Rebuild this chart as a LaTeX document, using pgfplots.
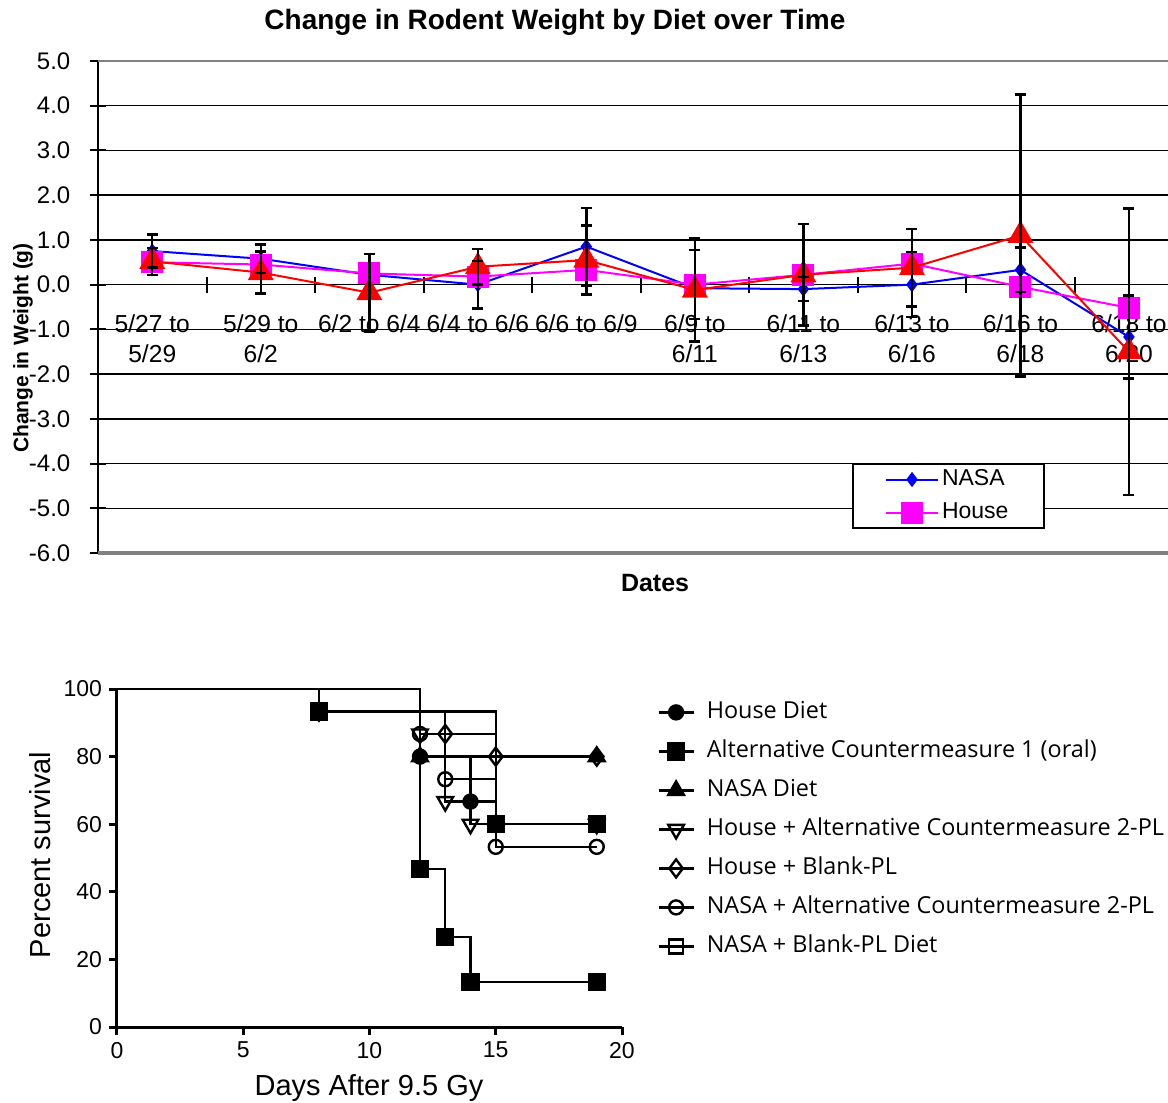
\documentclass[border=0pt]{standalone}
\usepackage{fontspec}
\setmainfont{Liberation Sans}
\newfontfamily\legfont{Open Sans}
\usepackage{pgfplots}
\pgfplotsset{compat=1.18}
\definecolor{nasablue}{RGB}{0,0,255}
\definecolor{housemag}{RGB}{255,0,255}
\definecolor{thirdred}{RGB}{255,0,0}

\begin{document}
\begin{tikzpicture}
\path[use as bounding box] (0,0) rectangle (584pt,-551.5pt);

% ---------- top: weight change ----------
\begin{axis}[
  at={(49pt,-30.5pt)}, anchor=north west,
  scale only axis, width=535pt, height=246pt,
  xmin=0.5, xmax=10.36, ymin=-6, ymax=5,
  clip mode=individual,
  axis y line*=left, axis x line*=middle,
  hide obscured x ticks=false, hide obscured y ticks=false,
  x axis line style={black, line width=0.7pt},
  y axis line style={black, line width=1.2pt},
  ytick={-6,...,5},
  yticklabels={-6.0,-5.0,-4.0,-3.0,-2.0,-1.0,0.0,1.0,2.0,3.0,4.0,5.0},
  ymajorgrids, grid style={black, line width=0.7pt},
  xtick={1,...,10},
  xticklabels={{5/27 to\\5/29},{5/29 to\\6/2},{6/2 to 6/4},{6/4 to 6/6},{6/6 to 6/9},
    {6/9 to\\6/11},{6/11 to\\6/13},{6/13 to\\6/16},{6/16 to\\6/18},{6/18 to\\6/20}},
  minor x tick num=1,
  tick align=center, major tick length=8pt, minor tick length=8pt,
  tick style={black, line width=1pt},
  major x tick style={draw=none},
  xticklabel style={font=\fontsize{12.3}{15}\selectfont, align=center, anchor=north, yshift=-7.5pt},
  yticklabel style={font=\fontsize{12}{14}\selectfont, anchor=east, xshift=-6.3pt},
  xlabel={Dates},
  xlabel style={font=\bfseries\fontsize{12.5}{14}\selectfont, at={(axis description cs:0.5206,-0.061)}, anchor=center},
  ylabel={Change in Weight (g)},
  ylabel style={font=\bfseries\fontsize{10.5}{12}\selectfont, at={(axis description cs:-0.0701,0.4167)}, anchor=center},
  legend style={at={(0.7047,0.1829)}, anchor=north west, draw=black, line width=1pt,
    font=\fontsize{11.5}{13}\selectfont, inner xsep=16pt, inner ysep=1.75pt, row sep=4.5pt,
    nodes={inner xsep=1.5pt, inner ysep=0pt, text height=9pt, text depth=3pt}},
  legend cell align=left,
  legend image code/.code={
    \draw[#1, mark=none] (0pt,0pt) -- (26pt,0pt);
    \draw[#1, only marks] plot coordinates {(13pt,0pt)};},
]
\addplot[nasablue, line width=1pt, mark=diamond*, mark size=3pt] coordinates {
  (1,0.75) (2,0.58) (3,0.22) (4,0.0) (5,0.85) (6,-0.08) (7,-0.1) (8,0.0) (9,0.33) (10,-1.17)};
\addlegendentry{NASA}
\addplot[housemag, line width=1pt, mark=square*, mark size=5pt] coordinates {
  (1,0.5) (2,0.45) (3,0.25) (4,0.18) (5,0.33) (6,0.0) (7,0.22) (8,0.47) (9,-0.05) (10,-0.52)};
\addlegendentry{House}
\addplot[thirdred, line width=1pt, mark=triangle*, mark size=6.5pt, forget plot] coordinates {
  (1,0.52) (2,0.27) (3,-0.18) (4,0.4) (5,0.55) (6,-0.12) (7,0.22) (8,0.38) (9,1.1) (10,-1.5)};
% error bars
\pgfplotsset{errstyle/.style={draw=none, mark=none, forget plot,
  error bars/.cd, y dir=both, y explicit,
  error bar style={black, line width=1.2pt},
  error mark options={rotate=90, mark size=2.75pt, line width=1.2pt, black}}}
\addplot[errstyle] coordinates {
  (1,0.75) +- (0,0.37) (2,0.58) +- (0,0.32) (4,0.0) +- (0,0.53) (5,0.85) +- (0,0.87)
  (7,-0.1) +- (0,0.27) (8,0.0) +- (0,0.73) (9,0.33) +- (0,0.5) (10,-1.17) +- (0,0.93)};
\addplot[errstyle] coordinates {(6,0.0) +- (0,0.77)};
\addplot[errstyle] coordinates {
  (1,0.52) +- (0,0.3) (2,0.27) +- (0,0.47) (3,-0.18) +- (0,0.87) (4,0.4) +- (0,0.4)
  (5,0.55) +- (0,0.77) (6,-0.12) +- (0,1.15) (7,0.22) +- (0,1.13) (8,0.38) +- (0,0.87)
  (9,1.1) +- (0,3.15) (10,-1.5) +- (0,3.2)};
\draw[gray, line width=1pt] (axis cs:0.5,5) -- (axis cs:10.36,5);
\draw[gray, line width=2pt] (axis cs:0.5,-6) -- (axis cs:10.36,-6);
\node[font=\bfseries\fontsize{14}{16}\selectfont, anchor=center]
  at (axis description cs:0.427,1.079) {Change in Rodent Weight by Diet over Time};
\end{axis}

% ---------- bottom: survival ----------
\begin{axis}[
  at={(58.5pt,-513.5pt)}, anchor=south west,
  scale only axis, width=252.5pt, height=169pt,
  xmin=0, xmax=20, ymin=0, ymax=100,
  clip=false,
  axis lines*=left,
  axis line style={black, line width=1.5pt},
  tick style={black, line width=1.5pt},
  tick align=outside, major tick length=4pt,
  xtick={0,5,...,20}, ytick={0,20,...,100},
  /pgf/number format/assume math mode=true,
  ticklabel style={font=\fontsize{11.5}{13}\selectfont},
  xlabel={Days After 9.5 Gy},
  xlabel style={font=\fontsize{14.5}{16}\selectfont, at={(axis description cs:0.499,-0.180)}, anchor=center},
  ylabel={Percent survival},
  ylabel style={font=\fontsize{14.5}{16}\selectfont, at={(axis description cs:-0.1525,0.509)}, anchor=center},
  legend style={at={(axis description cs:1.0693,0.9675)}, anchor=north west, draw=none,
    inner sep=0pt, row sep=7.5pt, font=\legfont\fontsize{11.7}{13}\selectfont,
    nodes={inner xsep=6pt, inner ysep=0pt, text height=9pt, text depth=3pt}},
  legend cell align=left,
  legend image code/.code={
    \draw[black, line width=1.2pt] (0pt,0pt) -- (17.5pt,0pt);
    \draw[#1] plot coordinates {(8.75pt,0pt)};},
  kmline/.style={black, line width=1.2pt, const plot, mark=none, forget plot},
  kmmark/.style={black, only marks, mark options={line width=1.2pt}},
]
% step lines
\addplot[kmline] coordinates {(0,100) (12,80) (14,66.7) (15,60) (19,60)};
\addplot[kmline] coordinates {(0,100) (12,46.7) (13,26.7) (14,13.3) (19,13.3)};
\addplot[kmline] coordinates {(0,100) (12,80) (19,80)};
\addplot[kmline] coordinates {(0,100) (12,86.7) (13,66.7) (14,60) (19,60)};
\addplot[kmline] coordinates {(0,100) (8,93.3) (13,86.7) (15,80) (19,80)};
\addplot[kmline] coordinates {(0,100) (12,86.7) (13,73.3) (15,53.3) (19,53.3)};
\addplot[kmline] coordinates {(0,100) (8,93.3) (15,60) (19,60)};
% symbols
\addplot[kmmark, mark=*, mark size=3.5pt] coordinates {(12,80) (14,66.7) (15,60) (19,60)};
\addlegendentry{House Diet}
\addplot[kmmark, mark=square*, mark size=4pt] coordinates {(12,46.7) (13,26.7) (14,13.3) (19,13.3)};
\addlegendentry{Alternative Countermeasure 1 (oral)}
\addplot[kmmark, mark=triangle*, mark size=4.5pt] coordinates {(12,80) (19,80)};
\addlegendentry{NASA Diet}
\addplot[kmmark, mark=triangle, mark size=4.5pt, mark options={rotate=180, fill=white, line width=1.2pt}] coordinates {(12,86.7) (13,66.7) (14,60) (19,60)};
\addlegendentry{House + Alternative Countermeasure 2-PL}
\addplot[kmmark, mark=diamond, mark size=4.5pt, mark options={fill=white, line width=1.2pt}] coordinates {(8,93.3) (13,86.7) (15,80) (19,80)};
\addlegendentry{House + Blank-PL}
\addplot[kmmark, mark=o, mark size=3.5pt, mark options={fill=white, line width=1.2pt}] coordinates {(12,86.7) (13,73.3) (15,53.3) (19,53.3)};
\addlegendentry{NASA + Alternative Countermeasure 2-PL}
\addplot[kmmark, mark=square*, mark size=4pt, forget plot] coordinates {(8,93.3) (15,60) (19,60)};
\addlegendimage{black, only marks, mark=square, mark size=3.5pt, mark options={fill=white, line width=1.2pt}}
\addlegendentry{NASA + Blank-PL Diet}
\end{axis}
\end{tikzpicture}
\end{document}
